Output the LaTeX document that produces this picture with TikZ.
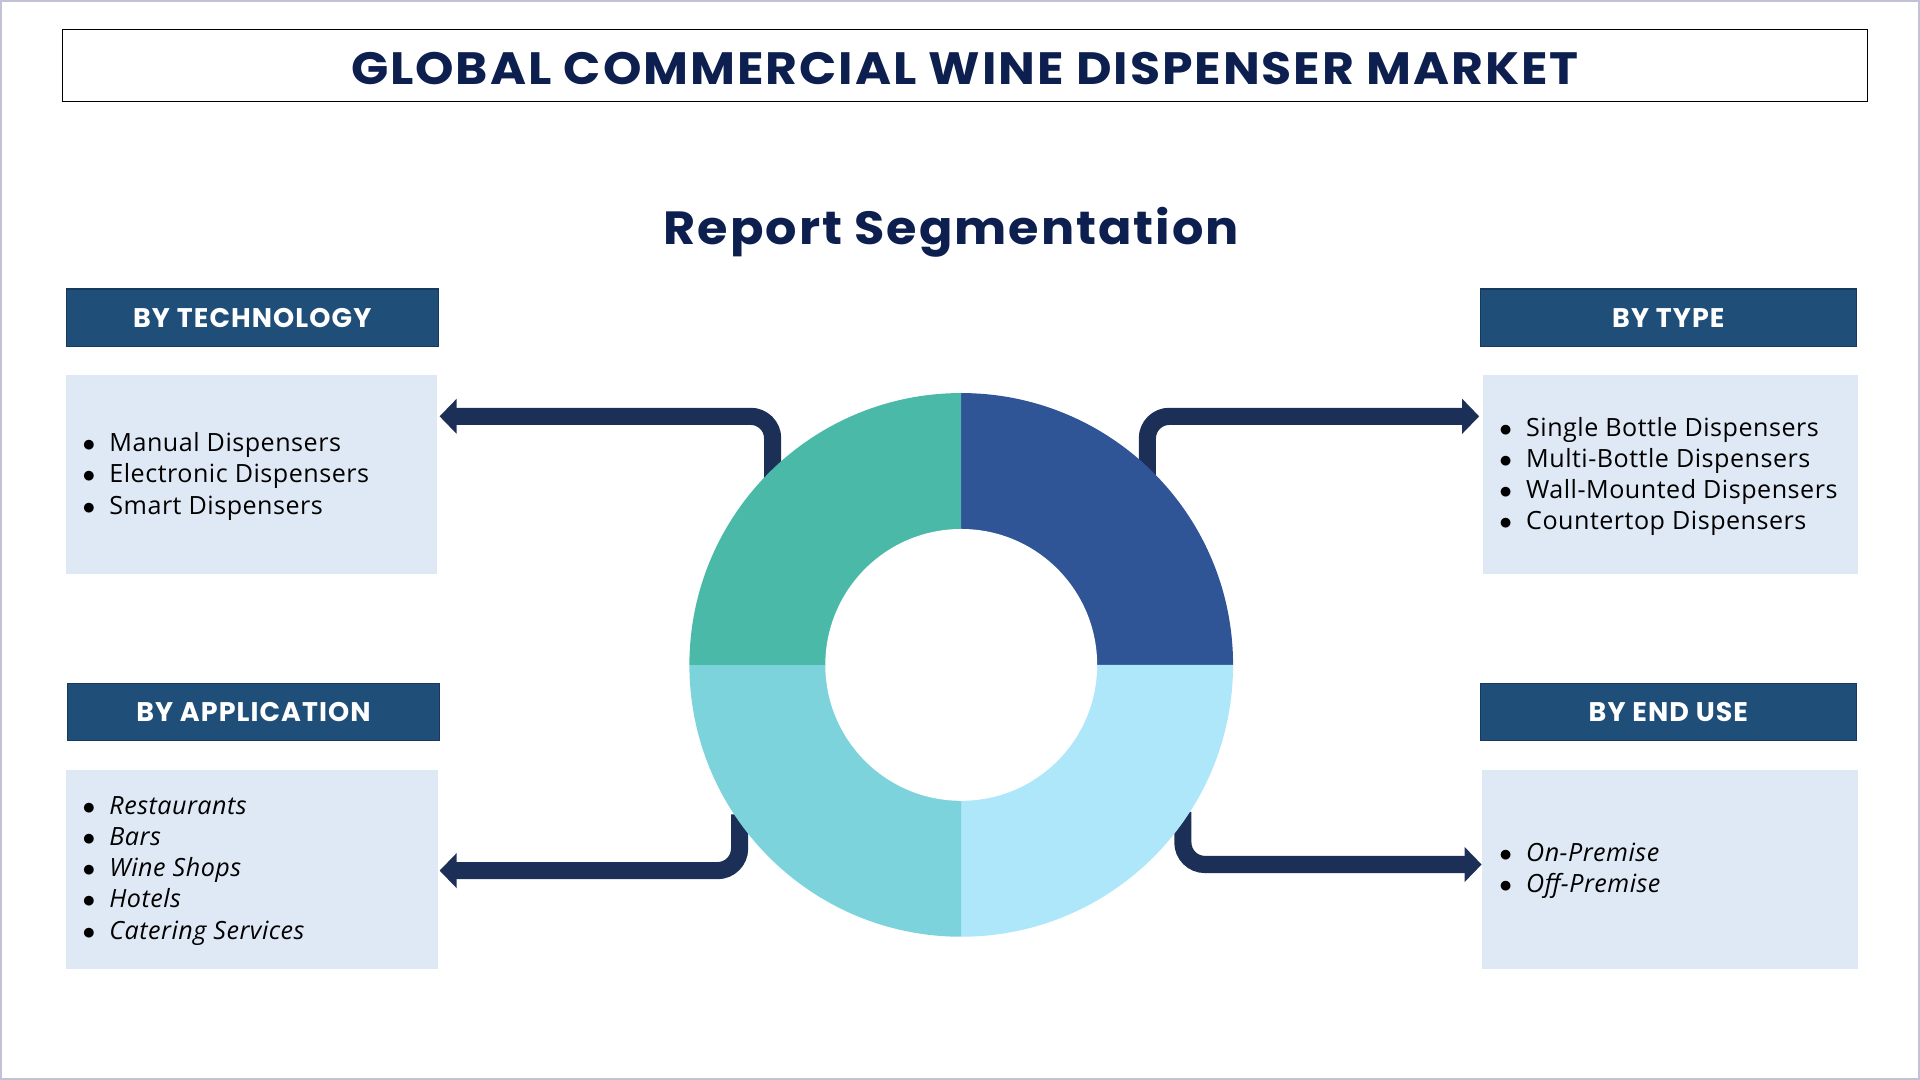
\documentclass[tikz,border=0pt]{standalone}
\usepackage{fontspec}
\setmainfont{Open Sans}
\newfontfamily\pop{Poppins}[LetterSpace=4]
\usetikzlibrary{arrows.meta}
\definecolor{navy}{HTML}{0D1F4F}
\definecolor{hdr}{HTML}{1F4E79}
\definecolor{hdrb}{HTML}{173A5C}
\definecolor{boxc}{HTML}{DFE9F5}
\definecolor{conn}{HTML}{1B2F57}
\definecolor{qa}{HTML}{2F5597}
\definecolor{qb}{HTML}{AEE6FA}
\definecolor{qc}{HTML}{7DD3DB}
\definecolor{qd}{HTML}{4BB9A8}
\begin{document}
\begin{tikzpicture}[x=1pt,y=-1pt,
 hdrbox/.style={fill=hdr,draw=hdrb,line width=1pt,text=white,font=\pop\bfseries\fontsize{22}{24}\selectfont,inner sep=0},
 cbox/.style={fill=boxc,draw=none},
 conline/.style={draw=conn,line width=14pt,rounded corners=18pt,-{Triangle[length=14pt,width=28pt]}},
 itemtxt/.style={anchor=west,align=left,font=\addfontfeatures{LetterSpace=2}\fontsize{20.5}{25.5}\selectfont,text=black}]
\useasboundingbox (0,0) rectangle (1568,882);
\draw[draw=blue!20!gray!40,line width=2pt] (1,1) rectangle (1567,881);
\node[draw=black,line width=1pt,minimum width=1474pt,minimum height=59pt,inner sep=0] (title) at (788,53.5) {};
\node[text=navy,font=\pop\bfseries\fontsize{37}{40}\selectfont,xscale=1.08] (tt) at (788,56) {GLOBAL COMMERCIAL WINE DISPENSER MARKET};
\node[text=navy,font=\pop\bfseries\fontsize{38}{40}\selectfont,xscale=1.06] (rs) at (777,190) {Report Segmentation};
% headers
\node[hdrbox,minimum width=304pt,minimum height=47pt] (h1) at (206,259.5) {BY TECHNOLOGY};
\node[hdrbox,minimum width=307pt,minimum height=47pt] (h2) at (1362.5,259.5) {BY TYPE};
\node[hdrbox,minimum width=304pt,minimum height=47pt] (h3) at (207,581.5) {BY APPLICATION};
\node[hdrbox,minimum width=307pt,minimum height=47pt] (h4) at (1362.5,581.5) {BY END USE};
% boxes
\fill[cbox] (54,306) rectangle (357,469);
\fill[cbox] (1211,306) rectangle (1517,469);
\fill[cbox] (54,629) rectangle (358,791);
\fill[cbox] (1210,629) rectangle (1517,791);
\node[itemtxt] (t1) at (64,389) {$\bullet$\ \ Manual Dispensers\\$\bullet$\ \ Electronic Dispensers\\$\bullet$\ \ Smart Dispensers};
\node[itemtxt] (t2) at (1221,389) {$\bullet$\ \ Single Bottle Dispensers\\$\bullet$\ \ Multi-Bottle Dispensers\\$\bullet$\ \ Wall-Mounted Dispensers\\$\bullet$\ \ Countertop Dispensers};
\node[itemtxt] (t3) at (64,711) {$\bullet$\ \ \textit{Restaurants}\\$\bullet$\ \ \textit{Bars}\\$\bullet$\ \ \textit{Wine Shops}\\$\bullet$\ \ \textit{Hotels}\\$\bullet$\ \ \textit{Catering Services}};
\node[itemtxt] (t4) at (1221,711) {$\bullet$\ \ \textit{On-Premise}\\$\bullet$\ \ \textit{Off-Premise}};
% connectors
\coordinate (c1) at (631,392); \coordinate (e1) at (359,340);
\coordinate (c2) at (937,390); \coordinate (e2) at (1208,340);
\coordinate (c3) at (604,665); \coordinate (e3) at (359,711);
\coordinate (c4) at (966,663); \coordinate (e4) at (1210,706);
\draw[conline] (c1) |- (e1);
\draw[conline] (c2) |- (e2);
\draw[conline] (c3) |- (e3);
\draw[conline] (c4) |- (e4);
% donut
\coordinate (dc) at (785,543);
\fill[qa] (dc) -- ++(0,-222) arc[start angle=-90,end angle=0,radius=222] -- cycle;
\fill[qb] (dc) -- ++(222,0) arc[start angle=0,end angle=90,radius=222] -- cycle;
\fill[qc] (dc) -- ++(0,222) arc[start angle=90,end angle=180,radius=222] -- cycle;
\fill[qd] (dc) -- ++(-222,0) arc[start angle=180,end angle=270,radius=222] -- cycle;
\fill[white] (dc) circle[radius=111];
\end{tikzpicture}
\end{document}
